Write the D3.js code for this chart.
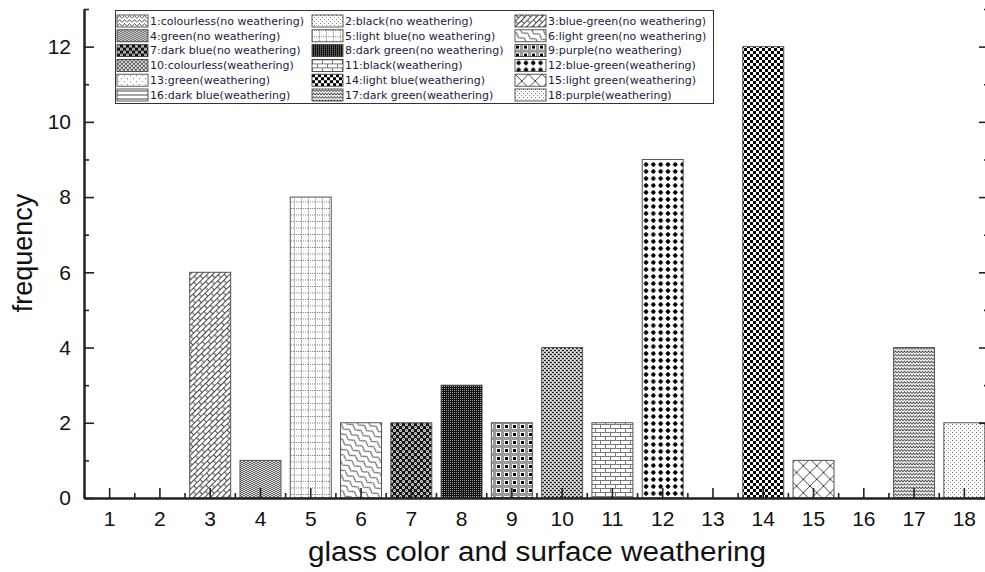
<!DOCTYPE html>
<html>
<head>
<meta charset="utf-8">
<script src="https://cdn.jsdelivr.net/npm/d3@7"></script>
<style>
  body { margin: 0; background: #fff; }
  svg { display: block; }
</style>
</head>
<body>
<svg id="chart" width="985" height="572"></svg>
<script>
// Glass groups: colour + surface weathering, numbered 1..18
const categories = [1, 2, 3, 4, 5, 6, 7, 8, 9, 10, 11, 12, 13, 14, 15, 16, 17, 18];
const frequency  = [0, 0, 6, 1, 8, 2, 2, 3, 2, 4, 2, 9, 0, 12, 1, 0, 4, 2];
const legendLabels = [
  "1:colourless(no weathering)", "2:black(no weathering)", "3:blue-green(no weathering)",
  "4:green(no weathering)", "5:light blue(no weathering)", "6:light green(no weathering)",
  "7:dark blue(no weathering)", "8:dark green(no weathering)", "9:purple(no weathering)",
  "10:colourless(weathering)", "11:black(weathering)", "12:blue-green(weathering)",
  "13:green(weathering)", "14:light blue(weathering)", "15:light green(weathering)",
  "16:dark blue(weathering)", "17:dark green(weathering)", "18:purple(weathering)"
];
const yMajorTicks = [0, 2, 4, 6, 8, 10, 12];
const yMinorTicks = [1, 3, 5, 7, 9, 11, 13];
const xMinorTicks = categories.map(c => c - 0.5).concat([18.5]);

const svg = d3.select("#chart");
const defs = svg.append("defs");

// ---- fill patterns, one per group ----
function pat(id, w, h, bg, draw, transform) {
  const p = defs.append("pattern")
    .attr("id", id).attr("patternUnits", "userSpaceOnUse")
    .attr("width", w).attr("height", h);
  if (transform) p.attr("patternTransform", transform);
  p.append("rect").attr("width", w).attr("height", h).attr("fill", bg);
  draw(p);
}
const path = (p, d, stroke, sw) => p.append("path").attr("d", d).attr("fill", "none")
  .attr("stroke", stroke).attr("stroke-width", sw);
const rect = (p, x, y, w, h, fill) => p.append("rect").attr("x", x).attr("y", y)
  .attr("width", w).attr("height", h).attr("fill", fill);
const dot = (p, cx, cy, r, fill) => p.append("circle").attr("cx", cx).attr("cy", cy)
  .attr("r", r).attr("fill", fill);

// 1 zigzag
pat("p1", 5, 4, "#fff", p => path(p, "M0,3.5 L2.5,0.5 L5,3.5", "#444", 0.9));
// 2 sparse fine dots
pat("p2", 4, 4, "#fff", p => { rect(p, 0, 0, 1, 1, "#888"); rect(p, 2, 2, 1, 1, "#888"); });
// 3 diagonal brick
pat("p3", 9, 8, "#fff", p => {
  path(p, "M0,0.5 H9 M0,4.5 H9 M0.5,0.5 V4.5 M5,4.5 V8", "#333", 0.9);
}, "rotate(-45)");
// 4 dense grey herringbone
pat("p4", 4, 4, "#ddd", p => path(p, "M0,2 L2,0 L4,2 M0,4 L2,2 L4,4", "#555", 0.9));
// 5 dotted grid
pat("p5", 7, 6.5, "#fff", p => {
  p.append("path").attr("d", "M0,0.5 H7 M0.5,0 V6.5").attr("stroke", "#777")
    .attr("stroke-width", 0.9).attr("stroke-dasharray", "1,1").attr("fill", "none");
});
// 6 diagonal waves
pat("p6", 10, 6, "#fff", p => path(p, "M0,3 Q2.5,0 5,3 T10,3", "#333", 1), "rotate(35)");
// 7 dark with white rings
pat("p7", 6, 6, "#111", p => {
  dot(p, 1.5, 1.5, 1.5, "#eee"); dot(p, 4.5, 4.5, 1.5, "#eee");
  dot(p, 1.5, 1.5, 0.6, "#555"); dot(p, 4.5, 4.5, 0.6, "#555");
});
// 8 very dark fine texture
pat("p8", 2, 2, "#111", p => rect(p, 0, 0, 1, 1, "#999"));
// 9 plaid
pat("p9", 8, 8, "#fff", p => {
  rect(p, 0, 5, 8, 3, "#999"); rect(p, 5, 0, 3, 8, "#999");
  rect(p, 1, 1, 3, 3, "#000");
});
// 10 grey weave
pat("p10", 4, 4, "#bbb", p => {
  rect(p, 0, 0, 2, 1, "#222"); rect(p, 2, 2, 2, 1, "#222");
  rect(p, 2, 0, 1, 1, "#fff"); rect(p, 0, 2, 1, 1, "#fff");
});
// 11 bricks
pat("p11", 10, 8, "#fff", p => path(p, "M0,0.5 H10 M0,4.5 H10 M0.5,0.5 V4.5 M5.5,4.5 V8", "#777", 1));
// 12 black rounded diamonds
pat("p12", 7.3, 7, "#fff", p => {
  p.append("path").attr("d", "M3.65,1 L6.1,3.5 L3.65,6 L1.2,3.5 Z").attr("fill", "#000");
  dot(p, 3.65, 3.5, 2, "#000");
});
// 13 sparse dots
pat("p13", 6, 6, "#fff", p => { rect(p, 1, 1, 1, 1, "#777"); rect(p, 4, 4, 1, 1, "#777"); });
// 14 checkerboard
pat("p14", 6, 6, "#fff", p => { rect(p, 0, 0, 3, 3, "#000"); rect(p, 3, 3, 3, 3, "#000"); });
// 15 large cross-hatch
pat("p15", 13.5, 13.5, "#fff", p => path(p, "M0,0 L13.5,13.5 M13.5,0 L0,13.5", "#333", 0.9));
// 16 horizontal lines
pat("p16", 10, 4, "#fff", p => path(p, "M0,2 H10", "#333", 0.9));
// 17 dense horizontal zigzag
pat("p17", 3, 3.4, "#fff", p => path(p, "M0,2.6 L1.5,0.8 L3,2.6", "#444", 0.9));
// 18 fine stipple
pat("p18", 4, 4, "#fff", p => { rect(p, 0, 0, 1, 1, "#777"); rect(p, 2, 2, 1, 1, "#999"); });

// ---- scales ----
const x = d3.scaleLinear().domain([0.5, 18.5]).range([84, 989]);
const y = d3.scaleLinear().domain([0, 13]).range([498, 9]);
const barW = (x(1) - x(0)) * 0.815;

// ---- bars ----
svg.append("g").selectAll("rect")
  .data(categories.map((c, i) => ({ c, v: frequency[i] })).filter(d => d.v > 0))
  .join("rect")
  .attr("x", d => x(d.c) - barW / 2 + 0.5)
  .attr("y", d => y(d.v))
  .attr("width", barW)
  .attr("height", d => y(0) - y(d.v))
  .attr("fill", d => `url(#p${d.c})`)
  .attr("stroke", "#555")
  .attr("stroke-width", 1);

// ---- axes ----
const font = "'Liberation Sans', Arial, sans-serif";
function styleAxis(g, w) {
  g.select(".domain").attr("stroke", "#222").attr("stroke-width", w);
  g.selectAll(".tick line").attr("stroke", "#222").attr("stroke-width", 1.6);
  g.selectAll("text").attr("font-family", font).attr("font-size", 21).attr("fill", "#111");
}

const xAxis = svg.append("g").attr("transform", `translate(0,${y(0)})`)
  .call(d3.axisBottom(x).tickValues(categories).tickSize(-10).tickSizeOuter(0).tickPadding(13));
styleAxis(xAxis, 2);
const xMinor = svg.append("g").attr("transform", `translate(0,${y(0)})`)
  .call(d3.axisBottom(x).tickValues(xMinorTicks).tickSize(-5).tickFormat("").tickSizeOuter(0));
styleAxis(xMinor, 2);

const yAxis = svg.append("g").attr("transform", `translate(${x(0.5)},0)`)
  .call(d3.axisLeft(y).tickValues(yMajorTicks).tickSize(-10).tickSizeOuter(0).tickPadding(13));
styleAxis(yAxis, 2);
const yMinor = svg.append("g").attr("transform", `translate(${x(0.5)},0)`)
  .call(d3.axisLeft(y).tickValues(yMinorTicks).tickSize(-5).tickFormat("").tickSizeOuter(0));
styleAxis(yMinor, 2);

const yRight = svg.append("g").attr("transform", `translate(${x(18.5)},0)`)
  .call(d3.axisRight(y).tickValues(yMajorTicks).tickSize(-10).tickFormat("").tickSizeOuter(0));
styleAxis(yRight, 2);
const yRightMinor = svg.append("g").attr("transform", `translate(${x(18.5)},0)`)
  .call(d3.axisRight(y).tickValues(yMinorTicks).tickSize(-5).tickFormat("").tickSizeOuter(0));
styleAxis(yRightMinor, 2);

// ---- axis titles ----
svg.append("text")
  .attr("x", 537).attr("y", 561)
  .attr("text-anchor", "middle")
  .attr("font-family", font).attr("font-size", 27).attr("fill", "#111")
  .attr("textLength", 458).attr("lengthAdjust", "spacingAndGlyphs")
  .text("glass color and surface weathering");
svg.append("text")
  .attr("transform", `translate(32,253) rotate(-90)`)
  .attr("text-anchor", "middle")
  .attr("font-family", font).attr("font-size", 27).attr("fill", "#111")
  .text("frequency");

// ---- legend ----
const legend = svg.append("g");
legend.append("rect")
  .attr("x", 115.5).attr("y", 10.5).attr("width", 598).attr("height", 93)
  .attr("fill", "#fff").attr("stroke", "#333").attr("stroke-width", 1);
const colX = [117, 312, 515];
const item = legend.selectAll("g.item").data(legendLabels).join("g")
  .attr("class", "item")
  .attr("transform", (d, i) => `translate(${colX[i % 3]},${15 + Math.floor(i / 3) * 14.8})`);
item.append("rect")
  .attr("width", 31).attr("height", 12)
  .attr("fill", (d, i) => `url(#p${i + 1})`)
  .attr("stroke", "#333").attr("stroke-width", 0.8);
item.append("text")
  .attr("x", 33).attr("y", 6).attr("dy", "0.35em")
  .attr("font-family", "'DejaVu Sans', Verdana, sans-serif").attr("font-size", 11)
  .attr("fill", "#1a1a40")
  .text(d => d);
</script>
</body>
</html>
